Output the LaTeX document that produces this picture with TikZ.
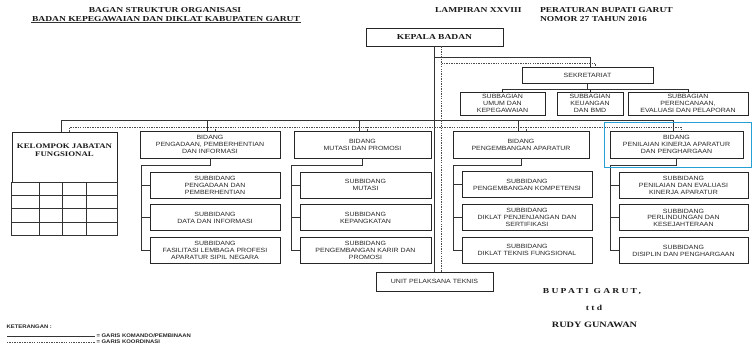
\documentclass[tikz,border=0pt]{standalone}
\usepackage{fontspec}
\setmainfont{Liberation Serif}
\newfontfamily\boxfont[FakeStretch=1.15]{Liberation Sans}
\newfontfamily\headfont[FakeStretch=1.25]{Liberation Serif}
\usetikzlibrary{positioning,calc}
\definecolor{highlight}{RGB}{38,160,212}

\begin{document}
\begin{tikzpicture}[x=0.03cm, y=-0.03cm, line width=0.6pt,
    orgbox/.style={draw=black!85, line width=0.7pt, align=center, inner sep=1pt, text=black!85,
      font=\boxfont\fontsize{5.2}{5.9}\selectfont},
    bidbox/.style={orgbox, minimum height=0.81cm},
    subbox/.style={orgbox, minimum height=0.78cm},
    headtext/.style={text=black!90, inner sep=0.6pt,
      font=\headfont\bfseries\fontsize{6.5}{7.5}\selectfont},
    signtext/.style={headtext,
      font=\headfont\bfseries\fontsize{6.5}{7.5}\selectfont\addfontfeature{LetterSpace=30}},
    smalltext/.style={text=black!85, inner sep=1pt,
      font=\boxfont\bfseries\fontsize{4.4}{5}\selectfont},
    komando/.style={draw=black!80},
    koordinasi/.style={draw=black!70, dash pattern=on 1.2pt off 0.9pt}]
        \useasboundingbox (0, 0) rectangle (755, 347);

        % headings
        \node[headtext] (title-a) at (165, 10) {BAGAN STRUKTUR ORGANISASI};
        \node[headtext] (title-b) at (166, 19) {BADAN KEPEGAWAIAN DAN DIKLAT KABUPATEN GARUT};
        \draw[black!80] (title-b.south west) -- (title-b.south east);
        \node[headtext, anchor=west] (lampiran) at (434, 10) {LAMPIRAN XXVIII};
        \node[headtext, anchor=west] (perbup) at (539, 10) {PERATURAN BUPATI GARUT};
        \node[headtext, anchor=west] (nomor) at (539, 19) {NOMOR 27 TAHUN 2016};

        % top of the chart
        \node[orgbox, headtext, draw=black!85, inner sep=1pt, minimum width=4.11cm, minimum height=0.54cm] (kepala) at (434.5, 37) {KEPALA BADAN};
        \node[orgbox, minimum width=3.93cm, minimum height=0.48cm] (sekretariat) at (587.5, 75) {SEKRETARIAT};
        \node[orgbox, minimum width=2.55cm, minimum height=0.69cm] (sb-umum) at (502.5, 103.5) {SUBBAGIAN\\UMUM DAN\\KEPEGAWAIAN};
        \node[orgbox, minimum width=1.98cm, minimum height=0.69cm] (sb-keuangan) at (590, 103.5) {SUBBAGIAN\\KEUANGAN\\DAN BMD};
        \node[orgbox, minimum width=3.6cm, minimum height=0.69cm] (sb-perencanaan) at (688, 103.5) {SUBBAGIAN\\PERENCANAAN,\\EVALUASI DAN PELAPORAN};

        % kelompok jabatan fungsional
        \node[orgbox, headtext, draw=black!85, inner sep=1pt, minimum width=3.15cm, minimum height=1.5cm,
          font=\headfont\bfseries\fontsize{6}{7}\selectfont] (kelompok) at (64.5, 157) {KELOMPOK JABATAN\\FUNGSIONAL\\[5pt]};
        \coordinate (grid-end) at ($(kelompok.south east)+(0, 53)$);
        \draw[komando] (kelompok.south west) rectangle (grid-end);
        \foreach \y in {13, 26, 40}
          \draw[komando] ($(kelompok.south west)+(0, \y)$) -- ($(kelompok.south east)+(0, \y)$);
        \foreach \x in {28, 51, 75}
          \draw[komando] ($(kelompok.south west)+(\x, 0)$) -- ($(kelompok.south west)+(\x, 53)$);

        % bidang
        \node[bidbox, minimum width=4.2cm] (bid-a) at (210, 144.5) {BIDANG\\PENGADAAN, PEMBERHENTIAN\\DAN INFORMASI};
        \node[bidbox, minimum width=4.11cm] (bid-b) at (362.5, 144.5) {BIDANG\\MUTASI DAN PROMOSI};
        \node[bidbox, minimum width=4.08cm] (bid-c) at (521, 144.5) {BIDANG\\PENGEMBANGAN APARATUR};
        \node[bidbox, minimum width=3.99cm] (bid-d) at (676.5, 144.5) {BIDANG\\PENILAIAN KINERJA APARATUR\\DAN PENGHARGAAN};

        % subbidang
        \node[subbox, minimum width=3.9cm] (sub-a1) at (215, 185) {SUBBIDANG\\PENGADAAN DAN\\PEMBERHENTIAN};
        \node[subbox, minimum width=3.9cm, below = 0.18cm of sub-a1] (sub-a2) {SUBBIDANG\\DATA DAN INFORMASI};
        \node[subbox, minimum width=3.9cm, below = 0.18cm of sub-a2] (sub-a3) {SUBBIDANG\\FASILITASI LEMBAGA PROFESI\\APARATUR SIPIL NEGARA};

        \node[subbox, minimum width=3.93cm] (sub-b1) at (365.5, 185) {SUBBIDANG\\MUTASI};
        \node[subbox, minimum width=3.93cm, below = 0.18cm of sub-b1] (sub-b2) {SUBBIDANG\\KEPANGKATAN};
        \node[subbox, minimum width=3.93cm, below = 0.18cm of sub-b2] (sub-b3) {SUBBIDANG\\PENGEMBANGAN KARIR DAN\\PROMOSI};

        \node[subbox, minimum width=3.9cm] (sub-c1) at (527, 184.5) {SUBBIDANG\\PENGEMBANGAN KOMPETENSI};
        \node[subbox, minimum width=3.9cm, below = 0.18cm of sub-c1] (sub-c2) {SUBBIDANG\\DIKLAT PENJENJANGAN DAN\\SERTIFIKASI};
        \node[subbox, minimum width=3.9cm, below = 0.18cm of sub-c2] (sub-c3) {SUBBIDANG\\DIKLAT TEKNIS FUNGSIONAL};

        \node[subbox, minimum width=3.87cm] (sub-d1) at (683.5, 185) {SUBBIDANG\\PENILAIAN DAN EVALUASI\\KINERJA APARATUR};
        \node[subbox, minimum width=3.87cm, below = 0.18cm of sub-d1] (sub-d2) {SUBBIDANG\\PERLINDUNGAN DAN\\KESEJAHTERAAN};
        \node[subbox, minimum width=3.87cm, below = 0.18cm of sub-d2] (sub-d3) {SUBBIDANG\\DISIPLIN DAN PENGHARGAAN};

        \node[orgbox, minimum width=3.51cm, minimum height=0.57cm] (upt) at (434.5, 281.5) {UNIT PELAKSANA TEKNIS};

        % garis komando
        \draw[komando] (kepala.south) -- (upt.north);
        \coordinate (sek-joint) at ($(kepala.south)+(0, 11)$);
        \draw[komando] (sek-joint) -| ($(sekretariat.north)+(3, 0)$);
        \draw[komando] (sekretariat.south) -- ++(0, 6) coordinate (sb-joint);
        \draw[komando] (sb-umum.north) |- (sb-joint) -| (sb-perencanaan.north);
        \draw[komando] (sb-keuangan.north |- sb-joint) -- (sb-keuangan.north);

        \coordinate (bid-joint) at ($(kepala.south)+(0, 74)$);
        \draw[komando] ($(kelompok.north)+(-3, 0)$) |- (bid-joint) -| ($(bid-d.north)+(-3, 0)$);
        \foreach \b in {a, b, c}
          \draw[komando] ($(bid-\b.north)+(-3, 0)$) -- ++(0, -11);

        \foreach \b in {a, b, c, d} {
          \coordinate (spine-\b) at ($(sub-\b3.west)+(-8, 0)$);
          \draw[komando] (bid-\b.south) -- ++(0, 7) -| (spine-\b) -- (sub-\b3.west);
          \draw[komando] (spine-\b |- sub-\b1.west) -- (sub-\b1.west);
          \draw[komando] (spine-\b |- sub-\b2.west) -- (sub-\b2.west);
        }

        % garis koordinasi
        \draw[koordinasi] ($(kepala.south)+(7, 0)$) -- ($(upt.north)+(7, 0)$);
        \draw[koordinasi] ($(kepala.south)+(7, 17)$) -| ($(sekretariat.north)+(8, 0)$);
        \coordinate (koord-joint) at ($(kepala.south)+(7, 81)$);
        \draw[koordinasi] ($(kelompok.north)+(5, 0)$) |- (koord-joint) -| ($(bid-d.north)+(5, 0)$);
        \foreach \b in {a, b, c}
          \draw[koordinasi] ($(bid-\b.north)+(5, 0)$) -- ++(0, -4);

        % highlight
        \draw[highlight, line width=1.2pt] ($(bid-d.north west)+(-5, -8)$) rectangle ($(bid-d.south east)+(8, 9)$);

        % signature
        \node[signtext] (bupati) at (592, 292) {BUPATI GARUT,};
        \node[signtext] (ttd) at (594, 308) {ttd};
        \node[headtext, font=\headfont\bfseries\fontsize{7}{8}\selectfont] (rudy) at (594.5, 325) {RUDY GUNAWAN};

        % keterangan
        \node[smalltext, anchor=west] (keterangan) at (5, 327) {KETERANGAN :};
        \coordinate (legend-a) at (7, 336);
        \coordinate (legend-b) at (7, 342);
        \draw[komando] (legend-a) -- ++(88, 0) node[smalltext, right] (komando-t) {= GARIS KOMANDO/PEMBINAAN};
        \draw[koordinasi] (legend-b) -- ++(88, 0) node[smalltext, right] (koordinasi-t) {= GARIS KOORDINASI};
      \end{tikzpicture}
\end{document}
